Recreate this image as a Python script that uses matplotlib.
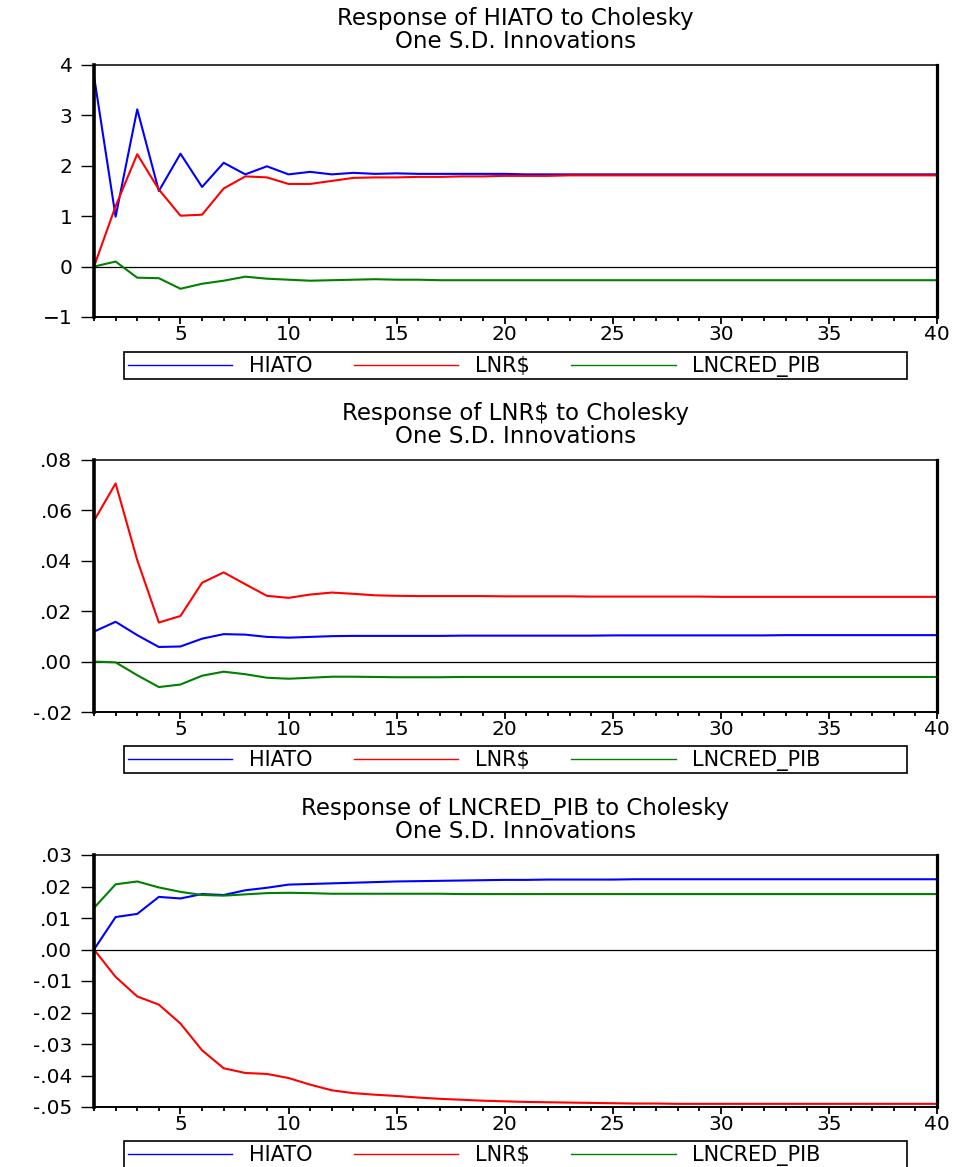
"""
Impulse responses (Cholesky one S.D. innovations), EViews-style panels.
"""
import matplotlib
matplotlib.use("Agg")
import matplotlib.pyplot as plt
from matplotlib.patches import Rectangle
from matplotlib.ticker import FuncFormatter, MultipleLocator
import numpy as np

# --- data ---
PERIODS = np.arange(1, 41)
SERIES = ["HIATO", "LNR$", "LNCRED_PIB"]
COLORS = ["#0000FF", "#FF0000", "#008000"]

# Response of HIATO
HIATO_1 = [3.78, 0.99, 3.12, 1.50, 2.24, 1.58, 2.06, 1.83, 1.99, 1.83,
           1.88, 1.83, 1.86, 1.84, 1.85, 1.84, 1.84, 1.84, 1.84, 1.84,
           1.83, 1.83, 1.83, 1.83, 1.83, 1.83, 1.83, 1.83, 1.83, 1.83,
           1.83, 1.83, 1.83, 1.83, 1.83, 1.83, 1.83, 1.83, 1.83, 1.83]
LNR_1 = [0.00, 1.20, 2.23, 1.53, 1.01, 1.03, 1.55, 1.79, 1.77, 1.64,
         1.64, 1.70, 1.76, 1.77, 1.77, 1.78, 1.78, 1.79, 1.79, 1.80,
         1.80, 1.80, 1.81, 1.81, 1.81, 1.81, 1.81, 1.81, 1.81, 1.81,
         1.81, 1.81, 1.81, 1.81, 1.81, 1.81, 1.81, 1.81, 1.81, 1.81]
LNCRED_1 = [0.00, 0.10, -0.22, -0.23, -0.44, -0.34, -0.28, -0.20, -0.24, -0.26,
            -0.28, -0.27, -0.26, -0.25, -0.26, -0.26, -0.27, -0.27, -0.27, -0.27,
            -0.27, -0.27, -0.27, -0.27, -0.27, -0.27, -0.27, -0.27, -0.27, -0.27,
            -0.27, -0.27, -0.27, -0.27, -0.27, -0.27, -0.27, -0.27, -0.27, -0.27]

# Response of LNR$
HIATO_2 = [0.0119, 0.0158, 0.0105, 0.0058, 0.0060, 0.0091, 0.0109, 0.0107, 0.0098, 0.0095,
           0.0098, 0.0101, 0.0102, 0.0102, 0.0102, 0.0102, 0.0102, 0.0103, 0.0103, 0.0103,
           0.0103, 0.0103, 0.0103, 0.0103, 0.0104, 0.0104, 0.0104, 0.0104, 0.0104, 0.0104,
           0.0104, 0.0104, 0.0105, 0.0105, 0.0105, 0.0105, 0.0105, 0.0105, 0.0105, 0.0105]
LNR_2 = [0.0559, 0.0707, 0.0403, 0.0155, 0.0181, 0.0313, 0.0354, 0.0307, 0.0261, 0.0253,
         0.0266, 0.0274, 0.0269, 0.0263, 0.0261, 0.0260, 0.0260, 0.0260, 0.0260, 0.0259,
         0.0259, 0.0259, 0.0259, 0.0258, 0.0258, 0.0258, 0.0258, 0.0258, 0.0258, 0.0257,
         0.0257, 0.0257, 0.0257, 0.0257, 0.0257, 0.0257, 0.0257, 0.0257, 0.0257, 0.0257]
LNCRED_2 = [0.0000, -0.0003, -0.0054, -0.0101, -0.0091, -0.0056, -0.0040, -0.0050, -0.0064, -0.0068,
            -0.0064, -0.0060, -0.0060, -0.0061, -0.0062, -0.0062, -0.0062, -0.0061, -0.0061, -0.0061,
            -0.0061, -0.0061, -0.0061, -0.0061, -0.0061, -0.0061, -0.0061, -0.0061, -0.0061, -0.0061,
            -0.0061, -0.0061, -0.0061, -0.0061, -0.0061, -0.0061, -0.0061, -0.0061, -0.0061, -0.0061]

# Response of LNCRED_PIB
HIATO_3 = [0.0000, 0.0103, 0.0113, 0.0167, 0.0162, 0.0176, 0.0173, 0.0188, 0.0196, 0.0206,
           0.0208, 0.0210, 0.0212, 0.0214, 0.0216, 0.0217, 0.0218, 0.0219, 0.0220, 0.0221,
           0.0221, 0.0222, 0.0222, 0.0222, 0.0222, 0.0223, 0.0223, 0.0223, 0.0223, 0.0223,
           0.0223, 0.0223, 0.0223, 0.0223, 0.0223, 0.0223, 0.0223, 0.0223, 0.0223, 0.0223]
LNR_3 = [0.0000, -0.0087, -0.0149, -0.0175, -0.0235, -0.0320, -0.0377, -0.0392, -0.0395, -0.0408,
         -0.0429, -0.0447, -0.0456, -0.0461, -0.0465, -0.0470, -0.0474, -0.0477, -0.0480, -0.0482,
         -0.0484, -0.0485, -0.0486, -0.0487, -0.0488, -0.0489, -0.0489, -0.0490, -0.0490, -0.0490,
         -0.0490, -0.0490, -0.0490, -0.0490, -0.0490, -0.0490, -0.0490, -0.0490, -0.0490, -0.0490]
LNCRED_3 = [0.0132, 0.0207, 0.0216, 0.0197, 0.0183, 0.0173, 0.0171, 0.0175, 0.0179, 0.0180,
            0.0179, 0.0177, 0.0177, 0.0177, 0.0177, 0.0177, 0.0177, 0.0176, 0.0176, 0.0176,
            0.0176, 0.0176, 0.0176, 0.0176, 0.0176, 0.0176, 0.0176, 0.0176, 0.0176, 0.0176,
            0.0176, 0.0176, 0.0176, 0.0176, 0.0176, 0.0176, 0.0176, 0.0176, 0.0176, 0.0176]

TITLES = ["Response of HIATO to Cholesky\nOne S.D. Innovations",
          "Response of LNR$ to Cholesky\nOne S.D. Innovations",
          "Response of LNCRED_PIB to Cholesky\nOne S.D. Innovations"]
YLIMS = [(-1, 4), (-0.02, 0.08), (-0.05, 0.03)]
YSTEPS = [1, 0.02, 0.01]

W, H = 958, 1167
# pixel boxes: (axes top, axes bottom, legend top)
BOXES = [(65, 317, 352), (460, 712, 746), (855, 1107, 1141)]
AX_LEFT, AX_RIGHT = 94, 937
LEG_LEFT, LEG_RIGHT, LEG_H = 124, 907, 27

plt.rcParams.update({
    "font.family": ["DejaVu Sans"],
    "font.size": 13,
})


def fmt_int(v, _):
    return f"{v:.0f}".replace("-", "\u2212")


def fmt_dec(v, _):
    if abs(v) < 1e-12:
        return ".00"
    return f"{v:.2f}".replace("0.", ".")


def draw_panel(fig, top, bottom, legend_top, series, title, ylim, ystep, formatter):
    ax = fig.add_axes([AX_LEFT / W, 1 - bottom / H, (AX_RIGHT - AX_LEFT) / W, (bottom - top) / H])
    ax.axhline(0, color="black", lw=0.9, zorder=1)
    handles = []
    for vals, name, col in zip(series, SERIES, COLORS):
        h, = ax.plot(PERIODS, vals, color=col, lw=1.5, label=name, zorder=2)
        handles.append(h)
    ax.set_xlim(1, 40)
    ax.set_ylim(*ylim)
    ax.xaxis.set_major_locator(MultipleLocator(5))
    ax.xaxis.set_minor_locator(MultipleLocator(1))
    ax.yaxis.set_major_locator(MultipleLocator(ystep))
    ax.yaxis.set_major_formatter(FuncFormatter(formatter))
    ax.tick_params(axis="x", which="major", direction="out", length=5, width=1.3, labelsize=14.5, pad=1)
    ax.tick_params(axis="x", which="minor", direction="out", length=3, width=1.3)
    ax.tick_params(axis="y", which="major", direction="out", length=9.5, width=1.0, labelsize=14.5, pad=6)
    ax.spines["left"].set_linewidth(2.6)
    ax.spines["right"].set_linewidth(2.3)
    ax.spines["top"].set_linewidth(1.1)
    ax.spines["bottom"].set_linewidth(1.4)
    ax.set_title(title, fontsize=16.5, linespacing=1.0, pad=12)

    leg = ax.legend(handles=handles, loc="upper left", ncol=3,
                    bbox_to_anchor=(LEG_LEFT / W, 1 - legend_top / H),
                    bbox_transform=fig.transFigure, borderaxespad=0,
                    fontsize=15, handlelength=5.0, columnspacing=2.0,
                    handletextpad=0.8, frameon=False, borderpad=0.2)
    for ln in leg.get_lines():
        ln.set_linewidth(1.0)
    # EViews draws a fixed-width legend box
    fig.patches.append(Rectangle((LEG_LEFT / W, 1 - (legend_top + LEG_H) / H),
                                 (LEG_RIGHT - LEG_LEFT) / W, LEG_H / H,
                                 transform=fig.transFigure, fill=False,
                                 edgecolor="black", lw=1.2))
    return ax


def main():
    fig = plt.figure(figsize=(W / 100, H / 100), dpi=100)
    data = [(HIATO_1, LNR_1, LNCRED_1), (HIATO_2, LNR_2, LNCRED_2), (HIATO_3, LNR_3, LNCRED_3)]
    formatters = [fmt_int, fmt_dec, fmt_dec]
    for (top, bottom, leg_top), series, title, ylim, step, f in zip(
            BOXES, data, TITLES, YLIMS, YSTEPS, formatters):
        draw_panel(fig, top, bottom, leg_top, series, title, ylim, step, f)
    fig.savefig("out.png", dpi=100)
    plt.close(fig)


if __name__ == "__main__":
    main()
